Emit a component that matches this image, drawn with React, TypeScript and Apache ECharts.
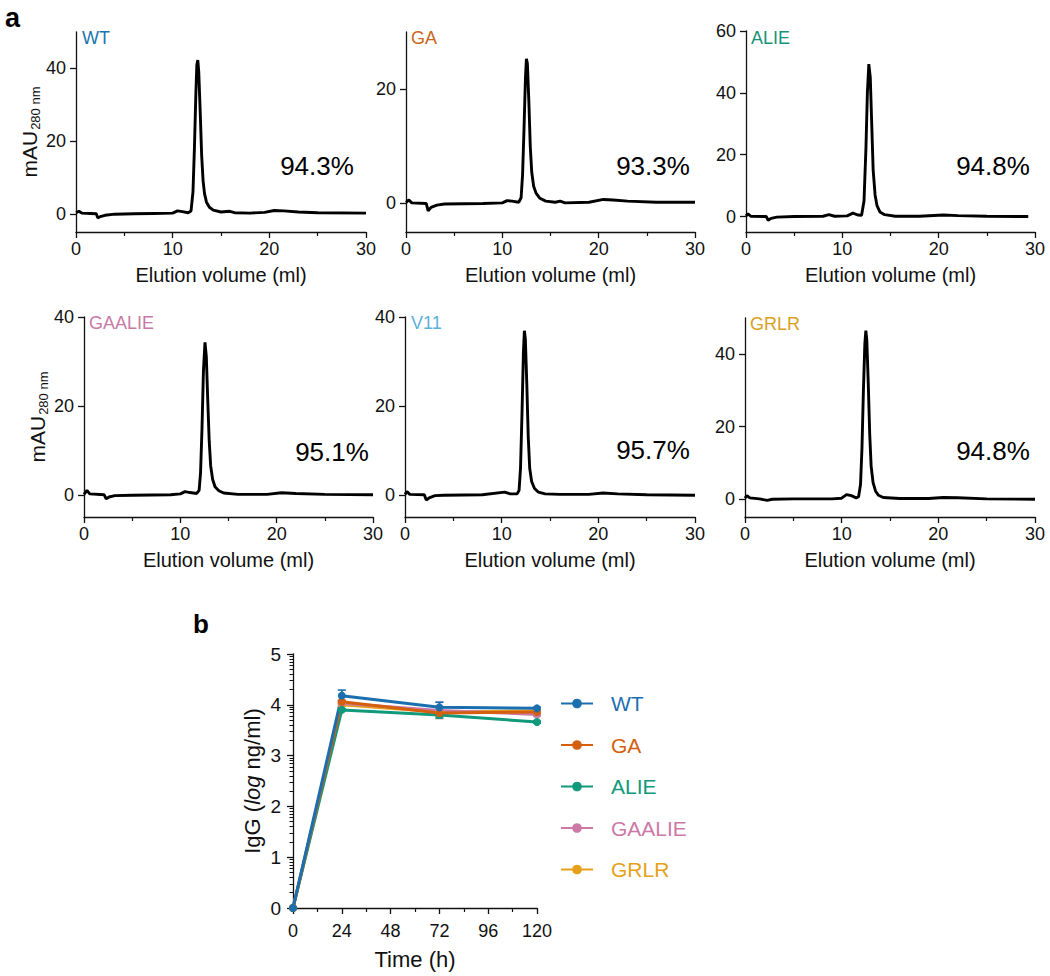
import React, { useEffect, useRef } from "react";
import * as echarts from "echarts";

const FONT = "'Liberation Sans', Arial, Helvetica, sans-serif";

// ---------- panel a : size-exclusion chromatograms ----------
const PANEL_NAMES = ["WT", "GA", "ALIE", "GAALIE", "V11", "GRLR"];
const PANEL_COLORS = ["#1a75ad", "#c8661a", "#17927a", "#c77aa6", "#5ab1dc", "#d9a11c"];
const PURITY = ["94.3%", "93.3%", "94.8%", "95.1%", "95.7%", "94.8%"];
const Y_MIN = -5;
const Y_MAX = [50, 30, 60, 40, 40, 50];
const Y_TICKS = [[0, 20, 40], [0, 20], [0, 20, 40, 60], [0, 20, 40], [0, 20, 40], [0, 20, 40]];
const X_MIN = 0;
const X_MAX = 30;
const X_STEP = 10;

const TRACE_WT = [
  [0, 0.3], [0.3, 0.7], [0.6, 0.2], [1.5, 0.1], [2.1, 0.0], [2.25, -1.1], [2.5, -0.8], [3, -0.4], [4, -0.1], [6, 0],
  [8, 0.1], [10, 0.2], [10.5, 0.8], [11, 0.6], [11.6, 0.3], [11.9, 0.8], [12.1, 6], [12.25, 18], [12.4, 33], [12.5, 41],
  [12.6, 42.3], [12.7, 39], [12.85, 28], [13.0, 16], [13.15, 9], [13.3, 5.5], [13.5, 3.2], [13.8, 1.8], [14.2, 1],
  [15, 0.5], [15.9, 0.7], [16.4, 0.3], [18, 0.2], [19.5, 0.4], [20.5, 0.9], [21.5, 0.8], [23, 0.5], [25, 0.3], [30, 0.2],
];
const TRACE_GA = [
  [0, 0.2], [0.3, 0.6], [0.6, 0.1], [2.1, 0], [2.3, -1.3], [2.6, -0.7], [3.2, -0.3], [4, -0.1], [8, 0], [10, 0.1],
  [10.5, 0.5], [11, 0.4], [11.7, 0.2], [11.95, 1], [12.1, 5], [12.25, 13], [12.4, 22], [12.5, 25.3], [12.6, 24.5],
  [12.75, 18], [12.9, 10], [13.05, 5.5], [13.25, 3], [13.5, 1.8], [13.9, 0.9], [14.5, 0.4], [15.5, 0.2], [16, 0.4],
  [16.5, 0.1], [19, 0.2], [20.5, 0.7], [21.5, 0.6], [23, 0.4], [26, 0.2], [30, 0.2],
];
const TRACE_ALIE = [
  [0, 0.2], [0.2, 0.9], [0.5, 0.1], [2.1, 0], [2.3, -1.2], [2.6, -0.6], [3.2, -0.2], [5, 0], [8, 0.1], [8.6, 0.6],
  [9.2, 0.1], [10.5, 0.2], [11.1, 1.1], [11.6, 0.5], [12.0, 0.4], [12.25, 5], [12.45, 22], [12.6, 40], [12.75, 49.3],
  [12.9, 45], [13.05, 30], [13.2, 15], [13.4, 7], [13.6, 3.5], [13.9, 1.5], [14.4, 0.6], [15.5, 0.1], [18, 0.1],
  [20.5, 0.5], [22, 0.3], [25, 0.1], [29.3, 0],
];
const TRACE_GAALIE = [
  [0, 0.1], [0.3, 1.0], [0.6, 0.2], [2.1, 0], [2.3, -0.9], [2.6, -0.5], [3.2, -0.2], [5, -0.1], [9, 0], [10, 0.2],
  [10.5, 0.7], [11, 0.5], [11.7, 0.3], [11.95, 1], [12.1, 5], [12.25, 15], [12.4, 28], [12.56, 34.3], [12.7, 31],
  [12.85, 21], [13.0, 12], [13.15, 6.5], [13.35, 3.5], [13.6, 1.8], [14, 0.9], [14.5, 0.4], [16, 0.1], [19, 0.1],
  [20.5, 0.45], [22, 0.3], [25, 0.1], [30, 0],
];
const TRACE_V11 = [
  [0, 0.1], [0.2, 0.7], [0.5, 0.1], [2.0, 0], [2.2, -1.2], [2.5, -0.7], [3.1, -0.2], [4, -0.1], [8, 0], [10.3, 0.6],
  [10.9, 0.2], [11.6, 0.2], [11.8, 1], [11.95, 6], [12.1, 18], [12.25, 32], [12.35, 36.9], [12.45, 35], [12.6, 25],
  [12.75, 13], [12.9, 6], [13.1, 3], [13.4, 1.4], [13.8, 0.6], [14.5, 0.2], [16, 0.1], [19, 0.1], [20.5, 0.4],
  [22, 0.2], [25, 0], [30, -0.1],
];
const TRACE_GRLR = [
  [0, 0.2], [0.2, 0.9], [0.5, 0.3], [1.5, 0], [2.3, -0.4], [2.8, -0.1], [5, 0], [9, 0], [10, 0.2], [10.5, 1.2],
  [11, 0.9], [11.5, 0.3], [11.75, 0.6], [11.95, 4], [12.1, 14], [12.25, 30], [12.4, 43], [12.5, 46.5], [12.6, 44],
  [12.75, 32], [12.9, 18], [13.05, 9], [13.25, 4.5], [13.5, 2.2], [13.8, 1.0], [14.3, 0.4], [16, 0.1], [19, 0.1],
  [20.5, 0.4], [22, 0.3], [25, 0], [30, -0.1],
];
const TRACES = [TRACE_WT, TRACE_GA, TRACE_ALIE, TRACE_GAALIE, TRACE_V11, TRACE_GRLR];

// ---------- panel b : IgG over time ----------
const TIME_H = [0, 24, 72, 120];
const B_NAMES = ["WT", "GA", "ALIE", "GAALIE", "GRLR"];
const B_COLORS = ["#1b6fae", "#d4600f", "#10997a", "#cc79a7", "#e5a11a"];
const IGG_WT = [0, 4.18, 3.95, 3.93];
const IGG_GA = [0, 4.06, 3.84, 3.86];
const IGG_ALIE = [0, 3.9, 3.8, 3.66];
const IGG_GAALIE = [0, 4.03, 3.89, 3.81];
const IGG_GRLR = [0, 4.0, 3.86, 3.88];
const ERR_WT = [0, 0.11, 0.1, 0.02];
const ERR_GA = [0, 0.03, 0.06, 0.02];
const ERR_ALIE = [0, 0.02, 0.06, 0.02];
const ERR_GAALIE = [0, 0.03, 0.16, 0.03];
const ERR_GRLR = [0, 0.03, 0.05, 0.02];
const B_VALUES = [IGG_WT, IGG_GA, IGG_ALIE, IGG_GAALIE, IGG_GRLR];
const B_ERRORS = [ERR_WT, ERR_GA, ERR_ALIE, ERR_GAALIE, ERR_GRLR];
const B_X_TICK = 24;
const B_Y_MAX = 5;

// ---------- layout ----------
const GRIDS = [
  { left: 76, top: 32, width: 290, height: 200 },
  { left: 406, top: 32, width: 289, height: 200 },
  { left: 746, top: 31, width: 289, height: 201 },
  { left: 84, top: 317, width: 289, height: 200 },
  { left: 405, top: 317, width: 290, height: 200 },
  { left: 745, top: 318, width: 290, height: 199 },
  { left: 293, top: 654, width: 244, height: 254 },
];
const NAME_POS = [[82, 38], [411, 38], [751, 38], [89, 323], [411, 323], [750, 324]];
const PURITY_POS = [[317, 166], [653, 166], [993, 166], [332, 452], [653, 450], [993, 451]];

const INK = "#111";

export default function App() {
  const ref = useRef<HTMLDivElement>(null);
  useEffect(() => {
    if (!ref.current) return;
    const chart = echarts.init(ref.current, undefined, { renderer: "svg" });

    const xAxes: any[] = [];
    const yAxes: any[] = [];
    const series: any[] = [];

    for (let i = 0; i < 6; i++) {
      xAxes.push({
        type: "value",
        gridIndex: i,
        min: X_MIN,
        max: X_MAX,
        interval: X_STEP,
        axisLine: { show: true, onZero: false, lineStyle: { color: INK, width: 1.3 } },
        axisTick: { show: true, length: 6, lineStyle: { color: INK, width: 1.3 } },
        minorTick: { show: true, splitNumber: 2, length: 4, lineStyle: { color: INK, width: 1.2 } },
        axisLabel: { fontSize: 18, color: INK, margin: 8, fontFamily: FONT },
        splitLine: { show: false },
        minorSplitLine: { show: false },
        name: "Elution volume (ml)",
        nameLocation: "middle",
        nameGap: 33,
        nameTextStyle: { fontSize: 20, color: INK, fontFamily: FONT },
      });
      const showName = i === 0 || i === 3;
      yAxes.push({
        type: "value",
        gridIndex: i,
        min: Y_MIN,
        max: Y_MAX[i],
        axisLine: { show: true, onZero: false, lineStyle: { color: INK, width: 1.3 } },
        axisTick: { show: true, length: 6, customValues: Y_TICKS[i], lineStyle: { color: INK, width: 1.3 } },
        axisLabel: { customValues: Y_TICKS[i], fontSize: 18, color: INK, margin: 10, fontFamily: FONT },
        splitLine: { show: false },
        name: showName ? "{a|mAU}{b|280 nm}" : "",
        nameLocation: "middle",
        nameRotate: 90,
        nameGap: 27,
        nameTextStyle: {
          color: INK,
          fontFamily: FONT,
          rich: {
            a: { fontSize: 21, color: INK, fontFamily: FONT },
            b: { fontSize: 13, color: INK, fontFamily: FONT, padding: [12, 0, 0, 1] },
          },
        },
      });
      series.push({
        type: "line",
        xAxisIndex: i,
        yAxisIndex: i,
        data: TRACES[i],
        symbol: "none",
        lineStyle: { color: "#000", width: 2.9 },
        silent: true,
      });
    }

    // panel b axes
    xAxes.push({
      type: "value",
      gridIndex: 6,
      min: 0,
      max: TIME_H[TIME_H.length - 1],
      interval: B_X_TICK,
      axisLine: { show: true, onZero: false, lineStyle: { color: INK, width: 1.3 } },
      axisTick: { show: true, length: 6, lineStyle: { color: INK, width: 1.3 } },
      minorTick: { show: true, splitNumber: 2, length: 4, lineStyle: { color: INK, width: 1.2 } },
      axisLabel: { fontSize: 18, color: INK, margin: 14, fontFamily: FONT },
      splitLine: { show: false },
      name: "Time (h)",
      nameLocation: "middle",
      nameGap: 40,
      nameTextStyle: { fontSize: 22, color: INK, fontFamily: FONT },
    });
    yAxes.push({
      type: "value",
      gridIndex: 6,
      min: 0,
      max: B_Y_MAX,
      interval: 1,
      axisLine: { show: true, onZero: false, lineStyle: { color: INK, width: 1.3 } },
      axisTick: { show: true, length: 6, lineStyle: { color: INK, width: 1.3 } },
      axisLabel: { fontSize: 19, color: INK, margin: 12, fontFamily: FONT },
      splitLine: { show: false },
      name: "{n|IgG (}{i|log}{n| ng/ml)}",
      nameLocation: "middle",
      nameRotate: 90,
      nameGap: 30,
      nameTextStyle: {
        rich: {
          n: { fontSize: 22, color: INK, fontFamily: FONT },
          i: { fontSize: 22, color: INK, fontFamily: FONT, fontStyle: "italic" },
        },
      },
    });
    const logMinor: number[] = [];
    for (let n = 0; n < B_Y_MAX; n++) {
      for (let k = 2; k <= 9; k++) logMinor.push(n + Math.log10(k));
    }
    yAxes.push({
      type: "value",
      gridIndex: 6,
      min: 0,
      max: B_Y_MAX,
      position: "left",
      axisLine: { show: false, onZero: false },
      axisTick: { show: true, length: 3.5, customValues: logMinor, lineStyle: { color: INK, width: 1 } },
      axisLabel: { show: false },
      splitLine: { show: false },
    });

    // error bars (under lines)
    for (let g = B_NAMES.length - 1; g >= 0; g--) {
      const color = B_COLORS[g];
      series.push({
        type: "custom",
        name: B_NAMES[g] + " SD",
        xAxisIndex: 6,
        yAxisIndex: 6,
        data: TIME_H.map((t, j) => [t, B_VALUES[g][j], B_ERRORS[g][j]]),
        silent: true,
        renderItem: (params: any, api: any) => {
          const x = api.value(0);
          const y = api.value(1);
          const e = api.value(2);
          if (!e) return null;
          const top = api.coord([x, y + e]);
          const bot = api.coord([x, y - e]);
          const st = { stroke: color, lineWidth: 1.6 };
          return {
            type: "group",
            children: [
              { type: "line", shape: { x1: top[0], y1: top[1], x2: bot[0], y2: bot[1] }, style: st },
              { type: "line", shape: { x1: top[0] - 4, y1: top[1], x2: top[0] + 4, y2: top[1] }, style: st },
              { type: "line", shape: { x1: bot[0] - 4, y1: bot[1], x2: bot[0] + 4, y2: bot[1] }, style: st },
            ],
          };
        },
      });
    }
    for (let g = B_NAMES.length - 1; g >= 0; g--) {
      series.push({
        type: "line",
        name: B_NAMES[g],
        xAxisIndex: 6,
        yAxisIndex: 6,
        data: TIME_H.map((t, j) => [t, B_VALUES[g][j]]),
        symbol: "circle",
        symbolSize: 8,
        clip: false,
        itemStyle: { color: B_COLORS[g] },
        lineStyle: { color: B_COLORS[g], width: 3 },
      });
    }

    const graphic: any[] = [
      { type: "text", x: 5, y: 4, style: { text: "a", fill: "#000", font: `bold 27px ${FONT}` } },
      { type: "text", x: 193, y: 611, style: { text: "b", fill: "#000", font: `bold 26px ${FONT}` } },
    ];
    for (let i = 0; i < 6; i++) {
      graphic.push({
        type: "text",
        x: NAME_POS[i][0],
        y: NAME_POS[i][1],
        style: {
          text: PANEL_NAMES[i],
          fill: PANEL_COLORS[i],
          font: `18px ${FONT}`,
          align: "left",
          verticalAlign: "middle",
          textAlign: "left",
          textVerticalAlign: "middle",
        },
      });
      graphic.push({
        type: "text",
        x: PURITY_POS[i][0],
        y: PURITY_POS[i][1],
        style: {
          text: PURITY[i],
          fill: "#000",
          font: `26px ${FONT}`,
          align: "center",
          verticalAlign: "middle",
          textAlign: "center",
          textVerticalAlign: "middle",
        },
      });
    }

    chart.setOption({
      animation: false,
      backgroundColor: "#fff",
      textStyle: { fontFamily: FONT },
      grid: GRIDS.map((g) => ({ ...g, containLabel: false })),
      xAxis: xAxes,
      yAxis: yAxes,
      series,
      graphic,
      legend: {
        orient: "vertical",
        left: 555,
        top: 688,
        itemWidth: 32,
        itemHeight: 12,
        itemGap: 20.5,
        selectedMode: false,
        data: B_NAMES.map((n, g) => ({ name: n, textStyle: { color: B_COLORS[g] } })),
        textStyle: { fontSize: 21, fontFamily: FONT, padding: [0, 0, 0, 13] },
      },
    });
    return () => chart.dispose();
  }, []);

  return (
    <div
      ref={ref}
      style={{ position: "absolute", left: 0, top: 0, width: 1050, height: 976, background: "#fff" }}
    />
  );
}
